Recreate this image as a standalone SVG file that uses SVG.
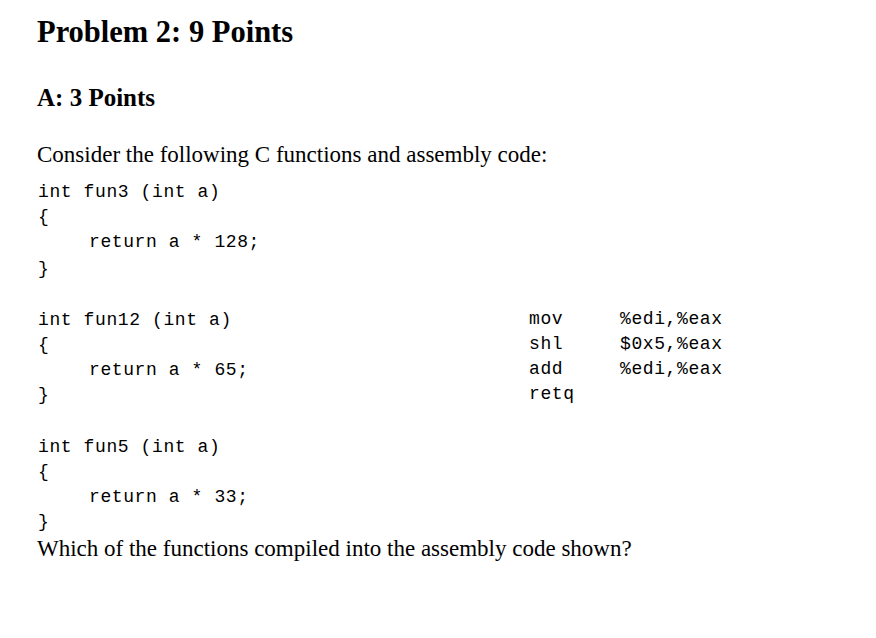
<svg xmlns="http://www.w3.org/2000/svg" width="876" height="638" viewBox="0 0 876 638">
<style>
.s{font-family:"Liberation Serif",serif;fill:#000}
.m{font-family:"Liberation Mono",monospace;font-size:18px;fill:#000;letter-spacing:0.6px}
</style>
<rect width="876" height="638" fill="#fff"/>
<text class="s" x="37" y="42" font-size="30.5" font-weight="bold">Problem 2: 9 Points</text>
<text class="s" x="37" y="106" font-size="25" font-weight="bold">A: 3 Points</text>
<text class="s" x="37" y="162" font-size="23">Consider the following C functions and assembly code:</text>
<g id="code">
<text class="m" x="38" y="197" xml:space="preserve">int fun3 (int a)</text>
<text class="m" x="38" y="222">{</text>
<text class="m" x="89" y="247">return a * 128;</text>
<text class="m" x="38" y="274">}</text>
<text class="m" x="38" y="325" xml:space="preserve">int fun12 (int a)</text>
<text class="m" x="38" y="350">{</text>
<text class="m" x="89" y="375">return a * 65;</text>
<text class="m" x="38" y="400">}</text>
<text class="m" x="38" y="452" xml:space="preserve">int fun5 (int a)</text>
<text class="m" x="38" y="477">{</text>
<text class="m" x="89" y="502">return a * 33;</text>
<text class="m" x="38" y="527">}</text>
</g>
<g id="asm">
<text class="m" x="529" y="324">mov</text><text class="m" x="620" y="324">%edi,%eax</text>
<text class="m" x="529" y="349">shl</text><text class="m" x="620" y="349">$0x5,%eax</text>
<text class="m" x="529" y="374">add</text><text class="m" x="620" y="374">%edi,%eax</text>
<text class="m" x="529" y="399">retq</text>
</g>
<text class="s" x="37" y="556" font-size="23">Which of the functions compiled into the assembly code shown?</text>
</svg>
